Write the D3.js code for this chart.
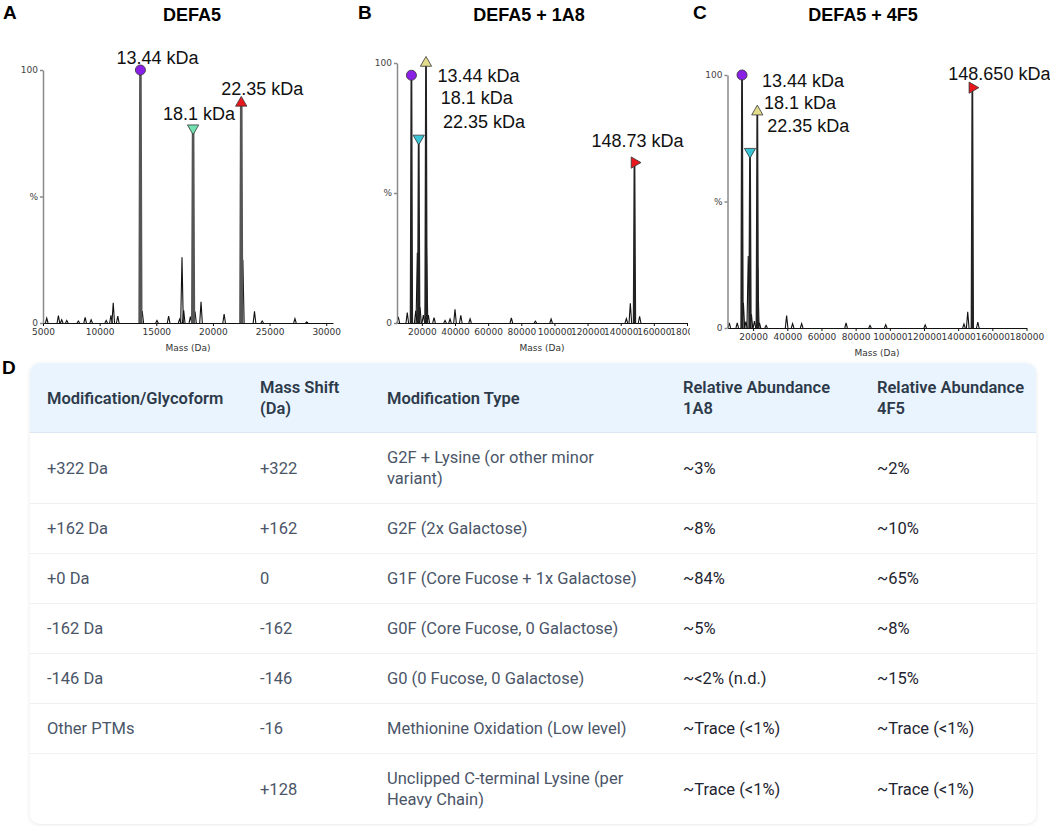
<!DOCTYPE html>
<html>
<head>
<meta charset="utf-8">
<script src="https://cdn.jsdelivr.net/npm/d3@7"></script>
<style>
body { margin: 0; background: #fff; }
#wrap { position: relative; width: 1050px; height: 826px; overflow: hidden; font-family: "Liberation Sans", Arial, sans-serif; }
#charts { position: absolute; left: 0; top: 0; }
.axis text { font-family: "DejaVu Sans", sans-serif; font-size: 9px; fill: #333; }
.yaxis text { font-size: 9px; fill: #444; }
.yaxis path, .yaxis line { stroke: #8a8a8a; stroke-width: 1.5; }
.xaxis path, .xaxis line { stroke: #111; }
#letterD { position: absolute; left: 2px; top: 357px; font: bold 19px "Liberation Sans", Arial, sans-serif; }
#card { position: absolute; left: 30px; top: 363px; width: 1006px; border-radius: 10px; overflow: hidden;
  box-shadow: 0 1px 5px rgba(0,0,0,0.09); background: #fff; }
#card table { border-collapse: collapse; table-layout: fixed; width: 1006px; font-family: Roboto, sans-serif; font-size: 16.5px; }
#card th { background: #e9f4fe; color: #2d3a4a; font-weight: 600; text-align: left; padding: 14px 17px 13px 17px;
  line-height: 21px; white-space: pre; border-bottom: 1px solid #dbe7f3; }
#card td { color: #4a5568; padding: 14px 17px; line-height: 21px; white-space: pre; border-bottom: 1px solid #eef0f3; }
#card td.dark { color: #1e2430; }
#card tr:last-child td { border-bottom: none; }
</style>
</head>
<body>
<div id="wrap">
  <svg id="charts" width="1050" height="360"></svg>
  <div id="letterD">D</div>
  <div id="card"></div>
</div>
<script>
// ---- panel A: DEFA5 ----
var minorMassA = [5330, 6360, 6650, 7100, 8120, 8720, 9250, 10580, 11000, 11200, 11600, 13760, 15060, 16090, 17060, 17270, 17420, 18010, 18420, 18950, 20990, 22640, 23670, 24350, 27240, 28280];
var minorPctA = [1.9, 2.9, 1.3, 1, 0.8, 2.2, 1.3, 1, 3, 8, 2.7, 4.7, 1, 2.7, 1.5, 26, 5, 2.5, 4.5, 8.4, 3.5, 25, 4.6, 0.8, 1.7, 0.4];
var mainMassA = [13600, 18250, 22500];
var mainPctA = [100, 77, 87];
var mainLabelA = ['13.44 kDa', '18.1 kDa', '22.35 kDa'];
var ticksA = [5000, 10000, 15000, 20000, 25000, 30000];

// ---- panel B: DEFA5 + 1A8 ----
var minorMassB = [5800, 11200, 16300, 17270, 18900, 20900, 22800, 23900, 27350, 34000, 37000, 40000, 43500, 49100, 74000, 88500, 98000, 143400, 145800, 151400];
var minorPctB = [2.4, 4, 4.7, 27, 6, 3, 28.7, 3, 2.1, 1, 1.5, 5.3, 2.9, 1.6, 2, 0.7, 1.5, 1.7, 7.6, 2.6];
var mainMassB = [13700, 18100, 22500, 148300];
var mainPctB = [95.3, 71, 100, 61.7];
var mainLabelB = ['13.44 kDa', '18.1 kDa', '22.35 kDa', '148.73 kDa'];

// ---- panel C: DEFA5 + 4F5 ----
var minorMassC = [6050, 10700, 14300, 15800, 17150, 19000, 20770, 22700, 23700, 27600, 39600, 43100, 48400, 74400, 88400, 97600, 120700, 143400, 145600, 151500];
var minorPctC = [2, 2, 10, 2.5, 28.5, 5.4, 2.7, 24, 2, 1, 4.9, 1.7, 1.7, 2, 1, 1.3, 1.2, 1.6, 6.4, 2.3];
var mainMassC = [13500, 18170, 22440, 148300];
var mainPctC = [100, 69.7, 85.5, 95];
var mainLabelC = ['13.44 kDa', '18.1 kDa', '22.35 kDa', '148.650 kDa'];
var ticksBC = [20000, 40000, 60000, 80000, 100000, 120000, 140000, 160000, 180000];

// ---- panel D: table ----
var tableHeaders = ['Modification/Glycoform', 'Mass Shift\n(Da)', 'Modification Type', 'Relative Abundance\n1A8', 'Relative Abundance\n4F5'];
var modNames = ['+322 Da', '+162 Da', '+0 Da', '-162 Da', '-146 Da', 'Other PTMs', ''];
var massShifts = ['+322', '+162', '0', '-162', '-146', '-16', '+128'];
var modTypes = ['G2F + Lysine (or other minor\nvariant)', 'G2F (2x Galactose)', 'G1F (Core Fucose + 1x Galactose)', 'G0F (Core Fucose, 0 Galactose)',
  'G0 (0 Fucose, 0 Galactose)', 'Methionine Oxidation (Low level)', 'Unclipped C-terminal Lysine (per\nHeavy Chain)'];
var abund1A8 = ['~3%', '~8%', '~84%', '~5%', '~<2% (n.d.)', '~Trace (<1%)', '~Trace (<1%)'];
var abund4F5 = ['~2%', '~10%', '~65%', '~8%', '~15%', '~Trace (<1%)', '~Trace (<1%)'];

var colWidths = [213, 127, 296, 194, 176];

var MARKERS = {
	circle: { type: d3.symbolCircle, rot: 0, size: 80 },
	up: { type: d3.symbolTriangle, rot: 0, size: 55 },
	down: { type: d3.symbolTriangle, rot: 180, size: 55 },
	right: { type: d3.symbolTriangle, rot: 90, size: 55 }
};

var panels = [
	{
		letter: 'A', title: 'DEFA5', left: 0, width: 345, letterX: 3, titleX: 192,
		xRange: [43, 333], yRange: [323, 70], domain: [5000, 30600], ticks: ticksA,
		minorMass: minorMassA, minorPct: minorPctA,
		mainMass: mainMassA, mainPct: mainPctA, labels: mainLabelA,
		markers: ['circle', 'down', 'up'], colors: ['#8a1fe6', '#72e2b2', '#e8171c'],
		anchor: 'middle', offsets: [[17, -6], [6, -8], [21, -8]],
		mainStroke: '#555', mainWidth: 2.6
	},
	{
		letter: 'B', title: 'DEFA5 + 1A8', left: 345, width: 345, letterX: 358, titleX: 529,
		xRange: [397, 687], yRange: [323, 63], domain: [5000, 180000], ticks: ticksBC,
		minorMass: minorMassB, minorPct: minorPctB,
		mainMass: mainMassB, mainPct: mainPctB, labels: mainLabelB,
		markers: ['circle', 'down', 'up', 'right'], colors: ['#8a1fe6', '#38c6d6', '#e2dc8c', '#e8171c'],
		anchor: 'start', offsets: [[26, 7], [22, -34], [17, 65], [-43, -16]],
		mainStroke: '#222', mainWidth: 1.8
	},
	{
		letter: 'C', title: 'DEFA5 + 4F5', left: 690, width: 360, letterX: 693, titleX: 863,
		xRange: [727.5, 1026.5], yRange: [328, 75], domain: [5000, 180000], ticks: ticksBC,
		minorMass: minorMassC, minorPct: minorPctC,
		mainMass: mainMassC, mainPct: mainPctC, labels: mainLabelC,
		markers: ['circle', 'down', 'up', 'right'], colors: ['#8a1fe6', '#38c6d6', '#e2dc8c', '#e8171c'],
		anchor: 'start', offsets: [[20, 12], [14, -43], [10, 20], [-24, -8]],
		mainStroke: '#222', mainWidth: 1.8
	}
];

var svg = d3.select('#charts');

panels.forEach(function(p) {
	// nested svg clips each panel like the original figure
	var g = svg.append('svg')
		.attr('x', p.left).attr('y', 0)
		.attr('width', p.width).attr('height', 360)
		.append('g')
		.attr('transform', 'translate(' + (-p.left) + ',0)');

	var x = d3.scaleLinear().domain(p.domain).range(p.xRange);
	var y = d3.scaleLinear().domain([0, 100]).range(p.yRange);

	g.append('text').attr('x', p.letterX).attr('y', 19)
		.style('font', 'bold 19px "Liberation Sans", Arial, sans-serif').text(p.letter);
	g.append('text').attr('x', p.titleX).attr('y', 21).attr('text-anchor', 'middle')
		.style('font', 'bold 18px "Liberation Sans", Arial, sans-serif').text(p.title);

	// spectrum: each minor peak is a narrow spike
	var peak = function(m, h, hw) {
		var cx = x(m);
		return 'M' + (cx - hw) + ',' + y(0) + 'L' + cx + ',' + y(h) + 'L' + (cx + hw) + ',' + y(0);
	};
	g.append('g').selectAll('path')
		.data(p.minorMass)
		.enter().append('path')
		.attr('d', function(m, i) { return peak(m, p.minorPct[i], 1.3); })
		.attr('fill', 'none').attr('stroke', '#111').attr('stroke-width', 1.1);

	g.append('g').selectAll('path')
		.data(p.mainMass)
		.enter().append('path')
		.attr('d', function(m, i) { return peak(m, p.mainPct[i], 0.8); })
		.attr('fill', 'none').attr('stroke', p.mainStroke).attr('stroke-width', p.mainWidth);

	// axes
	g.append('g').attr('class', 'axis xaxis')
		.attr('transform', 'translate(0,' + p.yRange[0] + ')')
		.call(d3.axisBottom(x).tickValues(p.ticks).tickSize(3).tickSizeOuter(0).tickPadding(3).tickFormat(d3.format('d')));

	g.append('g').attr('class', 'axis yaxis')
		.attr('transform', 'translate(' + p.xRange[0] + ',0)')
		.call(d3.axisLeft(y).tickValues([0, 50, 100]).tickSize(3).tickSizeOuter(0).tickPadding(2)
			.tickFormat(function(d) { return d === 50 ? '%' : d; }));

	g.append('text')
		.attr('x', (p.xRange[0] + p.xRange[1]) / 2).attr('y', p.yRange[0] + 28)
		.attr('text-anchor', 'middle')
		.style('font', '9px "DejaVu Sans", sans-serif').style('fill', '#333')
		.text('Mass (Da)');

	// peak markers and labels
	g.append('g').selectAll('path')
		.data(p.mainMass)
		.enter().append('path')
		.attr('d', function(m, i) { var k = MARKERS[p.markers[i]]; return d3.symbol().type(k.type).size(k.size)(); })
		.attr('transform', function(m, i) {
			return 'translate(' + x(m) + ',' + y(p.mainPct[i]) + ') rotate(' + MARKERS[p.markers[i]].rot + ')';
		})
		.attr('fill', function(m, i) { return p.colors[i]; })
		.attr('stroke', '#333').attr('stroke-width', 0.8);

	g.append('g').selectAll('text')
		.data(p.mainMass)
		.enter().append('text')
		.attr('x', function(m, i) { return x(m) + p.offsets[i][0]; })
		.attr('y', function(m, i) { return y(p.mainPct[i]) + p.offsets[i][1]; })
		.attr('text-anchor', p.anchor)
		.style('font', '18px "Liberation Sans", Arial, sans-serif').style('fill', '#111')
		.text(function(m, i) { return p.labels[i]; });
});

// table
var rows = modNames.map(function(d, i) {
	return [modNames[i], massShifts[i], modTypes[i], abund1A8[i], abund4F5[i]];
});

var table = d3.select('#card').append('table');
table.append('colgroup').selectAll('col')
	.data(colWidths)
	.enter().append('col')
	.style('width', function(d) { return d + 'px'; });

table.append('thead').append('tr').selectAll('th')
	.data(tableHeaders)
	.enter().append('th')
	.text(function(d) { return d; });

table.append('tbody').selectAll('tr')
	.data(rows)
	.enter().append('tr')
	.selectAll('td')
	.data(function(r) { return r; })
	.enter().append('td')
	.attr('class', function(d, i) { return i >= 3 ? 'dark' : null; })
	.text(function(d) { return d; });
</script>
</body>
</html>
